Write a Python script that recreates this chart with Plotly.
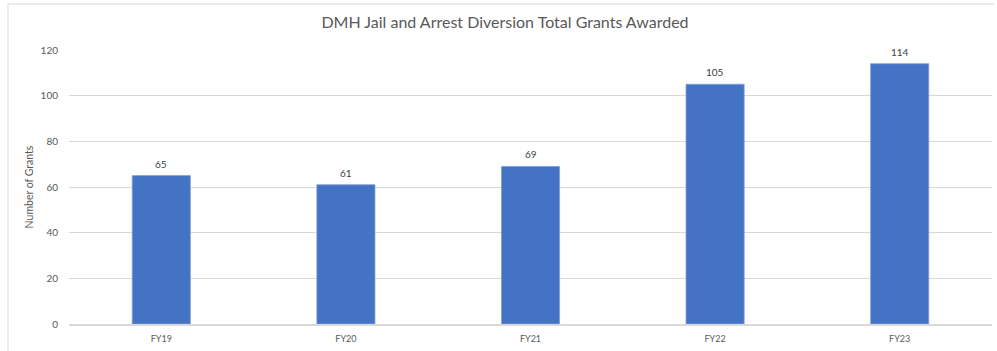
import plotly.graph_objects as go

categories = ["FY19", "FY20", "FY21", "FY22", "FY23"]
grants = [65, 61, 69, 105, 114]
y_ticks = [0, 20, 40, 60, 80, 100, 120]

W, H = 997, 351
L, R, T, B = 69, 5, 50, 27
pw, ph = W - L - R, H - T - B

def px_x(p):
    return (p - L) / pw

def px_y(p):
    return (H - B - p) / ph

fig = go.Figure(go.Bar(
    x=categories, y=grants,
    marker=dict(color="#4472C4", line=dict(color="#7f9fd8", width=0.8)),
))

for c, v in zip(categories, grants):
    fig.add_annotation(x=c, y=v, text=str(v), showarrow=False,
                       yanchor="bottom", yshift=4,
                       font=dict(family="Lato", size=10, color="#404040"))

fig.update_layout(
    width=W, height=H,
    margin=dict(l=L, r=R, t=T, b=B),
    paper_bgcolor="white", plot_bgcolor="white",
    bargap=0.685,
    showlegend=False,
    title=dict(text="DMH Jail and Arrest Diversion Total Grants Awarded",
               x=(505 / W), xanchor="center", y=1 - 22 / H, yanchor="middle",
               font=dict(family="Lato", size=16, color="#595959")),
    font=dict(family="Lato", color="#595959"),
    shapes=[
        dict(type="line", xref="paper", yref="paper",
             x0=px_x(8), x1=px_x(8), y0=px_y(4), y1=px_y(360),
             line=dict(color="#d9d9d9", width=1)),
        dict(type="line", xref="paper", yref="paper",
             x0=px_x(8), x1=px_x(994), y0=px_y(4), y1=px_y(4),
             line=dict(color="#d9d9d9", width=1)),
    ],
)

fig.update_yaxes(
    range=[0, 120], tickvals=y_ticks,
    showgrid=True, gridcolor="#d9d9d9", gridwidth=1,
    zeroline=False, showline=False,
    tickfont=dict(family="Lato", size=10, color="#595959"),
    ticks="outside", ticklen=8, tickcolor="white",
    title=dict(text="Number of Grants", standoff=4,
               font=dict(family="Lato", size=10.5, color="#595959")),
)
fig.update_xaxes(
    showline=True, linecolor="#d9d9d9", linewidth=1.5,
    showgrid=False,
    tickfont=dict(family="Lato", size=9, color="#595959"),
    ticks="outside", ticklen=5, tickcolor="white",
)

fig.write_html("out.html")
